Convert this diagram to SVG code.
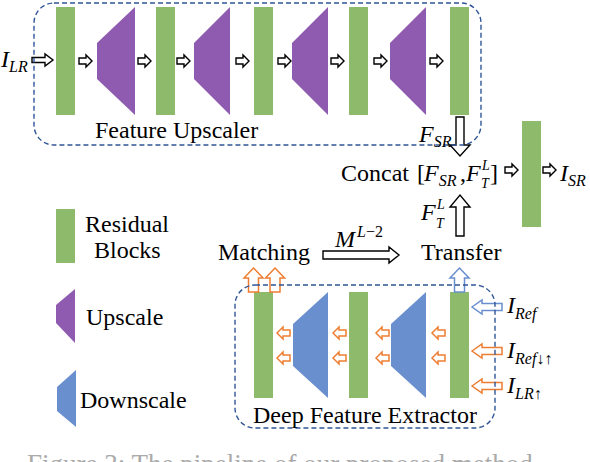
<svg xmlns="http://www.w3.org/2000/svg" width="590" height="462" viewBox="0 0 590 462">
<defs>
<style>
text{font-family:'Liberation Serif','Times New Roman',Tinos,'DejaVu Serif',serif}
.t{font-size:24px;fill:#000}
.m{font-style:italic;font-size:24px;fill:#000}
.s{font-size:16px}
.ss{font-size:14px}
.res{fill:#8dbb6b}
.up{fill:#8e5bb0}
.dn{fill:#6a8fcf}
.box{fill:none;stroke:#2f5597;stroke-width:1.4;stroke-dasharray:5 3}
.ba{fill:#fff;stroke:#000;stroke-width:1.4;stroke-linejoin:miter}
.oa{fill:#fff;stroke:#ed7d31;stroke-width:1.5}
.bl{fill:#fff;stroke:#6a8fcf;stroke-width:1.5}
.cap{font-size:27px;fill:#aaa}
</style>
<path id="sr" d="M0,-3H7V-6L13,0L7,6V3H0Z"/>
<path id="sl" d="M0,0L6,-6V-3H13V3H6V6Z"/>
</defs>
<rect width="590" height="462" fill="#fff"/>

<g id="upscaler-blocks">
<rect class="res" x="56" y="7" width="19" height="108"/>
<polygon class="up" points="97,43 135,7 135,115 97,79"/>
<rect class="res" x="156" y="7" width="19" height="108"/>
<polygon class="up" points="194,43 230,7 230,115 194,79"/>
<rect class="res" x="254" y="7" width="19" height="108"/>
<polygon class="up" points="292,43 328,7 328,115 292,79"/>
<rect class="res" x="349" y="7" width="19" height="108"/>
<polygon class="up" points="390,43 426,7 426,115 390,79"/>
<rect class="res" x="450" y="7" width="19" height="108"/>
</g>

<g id="output-block">
<rect class="res" x="522" y="121" width="19" height="106"/>
</g>

<g id="extractor-blocks">
<rect class="res" x="254" y="292" width="19" height="106"/>
<polygon class="dn" points="293,324 328,292 328,398 293,366"/>
<rect class="res" x="349" y="292" width="19" height="106"/>
<polygon class="dn" points="391,324 426,292 426,398 391,366"/>
<rect class="res" x="450" y="292" width="19" height="106"/>
</g>

<g id="legend">
<rect class="res" x="56" y="209" width="19" height="54"/>
<text class="t" x="85" y="232">Residual</text>
<text class="t" x="94" y="258">Blocks</text>
<polygon class="up" points="56,305 75,289 75,343 56,323"/>
<text class="t" x="86" y="325">Upscale</text>
<polygon class="dn" points="57,387 76,370 76,427 57,411"/>
<text class="t" x="80" y="408">Downscale</text>
</g>

<g id="connectors">
<path class="ba" d="M32,57.5H45V54L53,60L45,66V62.5H32Z"/>
<use href="#sr" class="ba" x="79" y="61"/>
<use href="#sr" class="ba" x="138" y="61"/>
<use href="#sr" class="ba" x="177" y="61"/>
<use href="#sr" class="ba" x="236" y="61"/>
<use href="#sr" class="ba" x="278" y="61"/>
<use href="#sr" class="ba" x="331" y="61"/>
<use href="#sr" class="ba" x="374" y="61"/>
<use href="#sr" class="ba" x="430" y="61"/>
<path class="ba" d="M456,117H464V145H470L460,156L450,145H456Z"/>
<path class="ba" d="M456,236H464V207H470L460,195L450,207H456Z"/>
<use href="#sr" class="ba" x="505" y="170"/>
<use href="#sr" class="ba" x="543" y="170"/>
<path class="ba" d="M323,251H389V247L399,255L389,263V259H323Z"/>
<path class="oa" d="M253.5,268L263,278H258.5V292H248.5V278H244Z"/>
<path class="oa" d="M275,268L284.5,278H280V292H270V278H265.5Z"/>
<path class="bl" d="M459.5,268L469,278H464.5V292H454.5V278H450Z"/>
<use href="#sl" class="oa" x="277" y="333"/>
<use href="#sl" class="oa" x="277" y="358"/>
<use href="#sl" class="oa" x="333" y="333"/>
<use href="#sl" class="oa" x="333" y="358"/>
<use href="#sl" class="oa" x="376" y="333"/>
<use href="#sl" class="oa" x="376" y="358"/>
<use href="#sl" class="oa" x="432" y="333"/>
<use href="#sl" class="oa" x="432" y="358"/>
<path class="bl" d="M472,307L482,300V303.5H502V310.5H482V314Z"/>
<path class="oa" d="M472,351L482,344V347.5H502V354.5H482V358Z"/>
<path class="oa" d="M472,386L482,379V382.5H502V389.5H482V393Z"/>
</g>

<g id="feature-upscaler">
<rect class="box" x="34" y="3" width="447" height="142" rx="20"/>
<text class="t" x="95" y="138">Feature Upscaler</text>
</g>

<g id="deep-feature-extractor">
<rect class="box" x="235" y="285" width="260" height="143" rx="20"/>
<text class="t" x="253" y="423">Deep Feature Extractor</text>
</g>

<g id="labels">
<text class="m" x="1" y="67" font-size="25">I<tspan class="s" dy="5">LR</tspan></text>
<text class="m" x="419" y="142">F<tspan class="s" dy="5">SR</tspan></text>
<text class="t" x="341" y="181">Concat</text>
<text class="t" x="417" y="181">[</text>
<text class="m" x="424" y="181">F<tspan class="s" dy="5">SR</tspan></text>
<text class="t" x="460" y="181">,</text>
<text class="m" x="466" y="181">F</text>
<text class="m ss" x="482" y="170">L</text>
<text class="m ss" x="481" y="188">T</text>
<text class="t" x="490" y="181">]</text>
<text class="m" x="560" y="181">I<tspan class="s" dy="5">SR</tspan></text>
<text class="m" x="421" y="220">F</text>
<text class="m ss" x="437" y="209">L</text>
<text class="m ss" x="436" y="228">T</text>
<text class="t" x="218" y="260">Matching</text>
<text class="m" x="335" y="247">M</text>
<text class="m s" x="357" y="237">L<tspan font-style="normal">−2</tspan></text>
<text class="t" x="421" y="260">Transfer</text>
<text class="m" x="507" y="313">I<tspan class="s" dy="6">Ref</tspan></text>
<text class="m" x="507" y="358">I<tspan class="s" dy="6">Ref<tspan font-style="normal">↓↑</tspan></tspan></text>
<text class="m" x="507" y="393">I<tspan class="s" dy="6">LR<tspan font-style="normal">↑</tspan></tspan></text>
</g>

<text class="cap" x="27" y="473">Figure 3: The pipeline of our proposed method.</text>
</svg>
